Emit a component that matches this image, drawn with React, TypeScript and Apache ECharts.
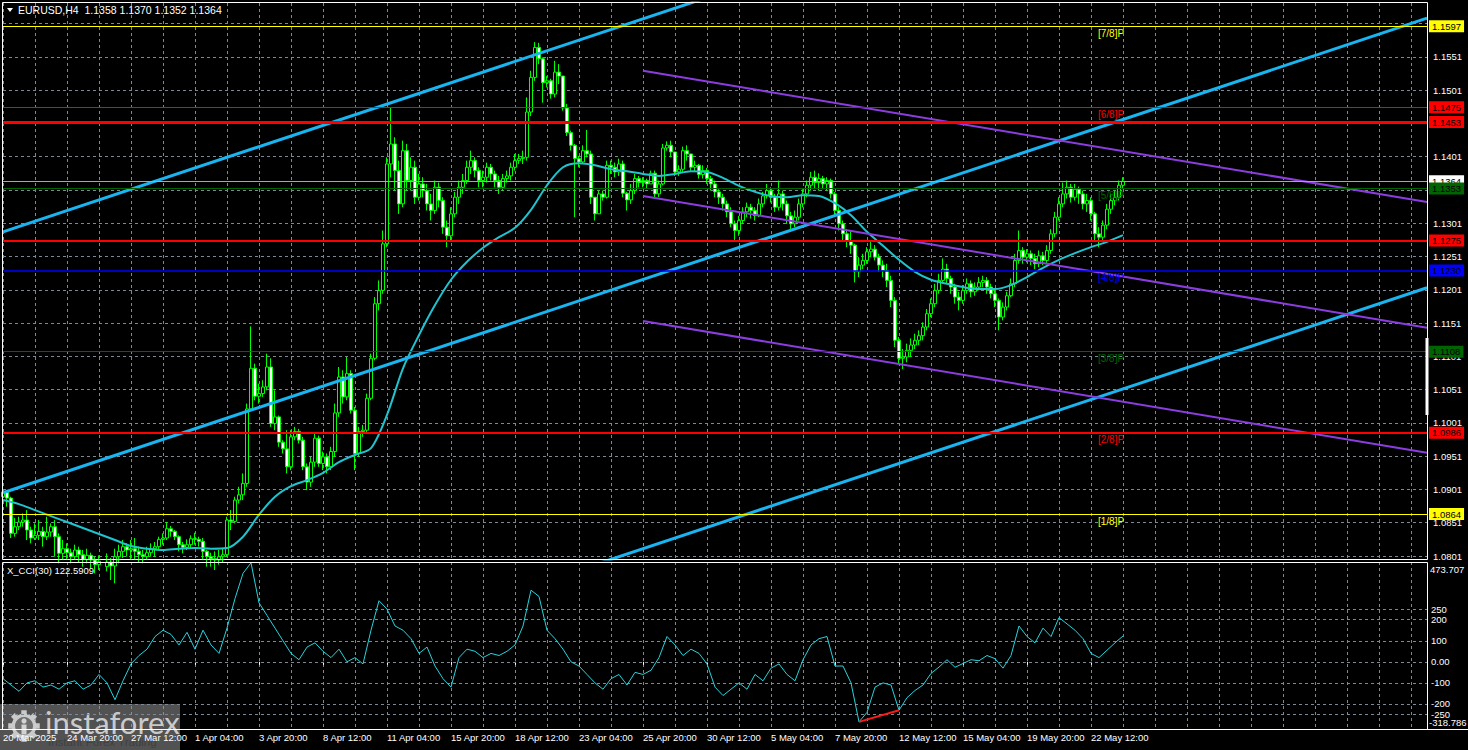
import React, { useEffect, useRef } from "react";
import * as echarts from "echarts";

// ---------------- DATA ----------------
const symbolName = "EURUSD,H4";
const slotCount = 357; // bars + right shift
const firstOpen = 1.089;
const closes = [
  1.0897,1.0888,1.0835,1.0845,1.0852,1.0855,1.0840,1.0828,1.0832,1.0838,
  1.0830,1.0837,1.0845,1.0830,1.0805,1.0812,1.0806,1.0800,1.0810,1.0803,
  1.0796,1.0802,1.0795,1.0788,1.0793,1.0785,1.0792,1.0786,1.0800,1.0808,
  1.0815,1.0810,1.0812,1.0808,1.0803,1.0800,1.0806,1.0812,1.0815,1.0826,
  1.0828,1.0842,1.0838,1.0830,1.0818,1.0814,1.0818,1.0827,1.0826,1.0823,
  1.0808,1.0800,1.0797,1.0795,1.0800,1.0803,1.0855,1.0853,1.0885,1.0893,
  1.0910,1.1022,1.1083,1.1041,1.1045,1.1055,1.1085,1.1000,1.1010,1.0972,
  1.0962,1.0935,1.0980,1.0988,1.0975,1.0935,1.0912,1.0942,1.0978,1.0940,
  1.0950,1.0935,1.0958,1.1016,1.1070,1.1040,1.1075,1.1020,1.0955,1.0988,
  1.0990,1.1038,1.1098,1.1180,1.1200,1.1270,1.1390,1.1420,1.1380,1.1330,
  1.1410,1.1365,1.1385,1.1340,1.1360,1.1350,1.1330,1.1320,1.1355,1.1335,
  1.1295,1.1282,1.1315,1.1340,1.1355,1.1365,1.1385,1.1395,1.1380,1.1365,
  1.1370,1.1385,1.1375,1.1365,1.1355,1.1368,1.1372,1.1385,1.1395,1.1398,
  1.1400,1.1468,1.1520,1.1565,1.1548,1.1512,1.1515,1.1495,1.1528,1.1522,
  1.1474,1.1437,1.1418,1.1398,1.1393,1.1410,1.1405,1.1340,1.1315,1.1345,
  1.1340,1.1388,1.1385,1.1378,1.1390,1.1346,1.1336,1.1350,1.1368,1.1362,
  1.1365,1.1360,1.1376,1.1345,1.1360,1.1414,1.1418,1.1408,1.1378,1.1382,
  1.1410,1.1405,1.1385,1.1388,1.1374,1.1380,1.1368,1.1360,1.1348,1.1340,
  1.1330,1.1318,1.1300,1.1290,1.1305,1.1318,1.1325,1.1320,1.1312,1.1330,
  1.1342,1.1350,1.1340,1.1325,1.1345,1.1330,1.1312,1.1300,1.1310,1.1330,
  1.1345,1.1358,1.1370,1.1362,1.1368,1.1360,1.1365,1.1345,1.1320,1.1300,
  1.1285,1.1275,1.1268,1.1228,1.1238,1.1245,1.1258,1.1262,1.1250,1.1238,
  1.1230,1.1215,1.1185,1.1125,1.1098,1.1100,1.1110,1.1118,1.1125,1.1132,
  1.1145,1.1165,1.1180,1.1200,1.1215,1.1232,1.1218,1.1205,1.1190,1.1185,
  1.1200,1.1210,1.1198,1.1205,1.1212,1.1215,1.1205,1.1195,1.1185,1.1160,
  1.1175,1.1192,1.1210,1.1245,1.1260,1.1250,1.1255,1.1248,1.1240,1.1252,
  1.1245,1.1260,1.1285,1.1310,1.1330,1.1345,1.1355,1.1340,1.1352,1.1345,
  1.1330,1.1335,1.1315,1.1285,1.1280,1.1298,1.1322,1.1335,1.1340,1.1358,
  1.1364,
];
const highs = [
  1.0925,1.0900,1.0890,1.0858,1.0860,1.0865,1.0870,1.0845,1.0850,1.0855,
  1.0845,1.0860,1.0850,1.0855,1.0835,1.0825,1.0820,1.0812,1.0818,1.0815,
  1.0810,1.0812,1.0806,1.0800,1.0802,1.0796,1.0805,1.0798,1.0812,1.0818,
  1.0825,1.0820,1.0825,1.0828,1.0815,1.0810,1.0815,1.0820,1.0822,1.0830,
  1.0835,1.0852,1.0846,1.0840,1.0832,1.0822,1.0826,1.0832,1.0836,1.0830,
  1.0828,1.0810,1.0806,1.0808,1.0810,1.0812,1.0860,1.0870,1.0890,1.0905,
  1.0925,1.1030,1.1146,1.1090,1.1060,1.1065,1.1105,1.1098,1.1050,1.1012,
  1.0975,1.0990,1.0990,1.0995,1.0992,1.0980,1.0940,1.0950,1.0985,1.0982,
  1.0958,1.0955,1.0965,1.1030,1.1085,1.1080,1.1100,1.1080,1.1025,1.0995,
  1.0998,1.1045,1.1105,1.1190,1.1215,1.1290,1.1400,1.1474,1.1430,1.1395,
  1.1425,1.1420,1.1400,1.1395,1.1375,1.1370,1.1360,1.1345,1.1365,1.1362,
  1.1340,1.1305,1.1325,1.1348,1.1365,1.1375,1.1395,1.1410,1.1400,1.1385,
  1.1380,1.1392,1.1390,1.1380,1.1372,1.1375,1.1380,1.1392,1.1405,1.1405,
  1.1410,1.1490,1.1530,1.1573,1.1572,1.1550,1.1522,1.1518,1.1545,1.1540,
  1.1515,1.1480,1.1440,1.1420,1.1402,1.1418,1.1441,1.1410,1.1340,1.1350,
  1.1350,1.1395,1.1395,1.1392,1.1398,1.1395,1.1348,1.1360,1.1375,1.1372,
  1.1370,1.1368,1.1380,1.1380,1.1365,1.1420,1.1424,1.1425,1.1402,1.1388,
  1.1416,1.1418,1.1405,1.1395,1.1390,1.1388,1.1384,1.1372,1.1365,1.1352,
  1.1345,1.1335,1.1325,1.1305,1.1312,1.1325,1.1332,1.1330,1.1325,1.1338,
  1.1348,1.1360,1.1355,1.1345,1.1365,1.1350,1.1335,1.1318,1.1320,1.1338,
  1.1352,1.1365,1.1378,1.1380,1.1376,1.1372,1.1370,1.1368,1.1348,1.1325,
  1.1305,1.1292,1.1290,1.1270,1.1250,1.1255,1.1265,1.1275,1.1268,1.1255,
  1.1245,1.1240,1.1222,1.1190,1.1130,1.1112,1.1120,1.1128,1.1135,1.1140,
  1.1152,1.1172,1.1188,1.1210,1.1225,1.1248,1.1240,1.1222,1.1210,1.1198,
  1.1208,1.1218,1.1215,1.1212,1.1220,1.1222,1.1220,1.1210,1.1200,1.1188,
  1.1182,1.1198,1.1218,1.1255,1.1290,1.1265,1.1262,1.1260,1.1255,1.1260,
  1.1258,1.1268,1.1292,1.1318,1.1340,1.1362,1.1365,1.1360,1.1360,1.1356,
  1.1350,1.1345,1.1340,1.1318,1.1295,1.1305,1.1330,1.1345,1.1350,1.1365,
  1.1370,
];
const lows = [
  1.0880,1.0875,1.0828,1.0830,1.0840,1.0845,1.0825,1.0820,1.0825,1.0825,
  1.0815,1.0825,1.0830,1.0800,1.0790,1.0795,1.0795,1.0790,1.0795,1.0792,
  1.0785,1.0790,1.0782,1.0775,1.0780,1.0770,1.0778,1.0765,1.0760,1.0790,
  1.0798,1.0800,1.0795,1.0795,1.0792,1.0790,1.0795,1.0800,1.0800,1.0810,
  1.0818,1.0825,1.0830,1.0825,1.0808,1.0805,1.0810,1.0812,1.0818,1.0815,
  1.0795,1.0785,1.0785,1.0780,1.0788,1.0792,1.0800,1.0840,1.0850,1.0880,
  1.0885,1.0905,1.1020,1.1035,1.1030,1.1040,1.1050,1.0995,1.0990,1.0965,
  1.0955,1.0925,1.0930,1.0975,1.0970,1.0930,1.0900,1.0905,1.0935,1.0935,
  1.0930,1.0925,1.0930,1.0950,1.1010,1.1030,1.1035,1.1015,1.0930,1.0950,
  1.0980,1.0985,1.1035,1.1095,1.1170,1.1195,1.1265,1.1370,1.1350,1.1315,
  1.1325,1.1350,1.1350,1.1330,1.1335,1.1340,1.1320,1.1305,1.1315,1.1325,
  1.1285,1.1265,1.1275,1.1310,1.1330,1.1345,1.1360,1.1375,1.1370,1.1355,
  1.1355,1.1362,1.1365,1.1355,1.1345,1.1350,1.1362,1.1365,1.1380,1.1390,
  1.1390,1.1395,1.1462,1.1515,1.1540,1.1482,1.1505,1.1488,1.1490,1.1510,
  1.1470,1.1432,1.1410,1.1310,1.1385,1.1390,1.1400,1.1330,1.1305,1.1315,
  1.1335,1.1338,1.1375,1.1370,1.1372,1.1340,1.1320,1.1330,1.1345,1.1355,
  1.1355,1.1352,1.1360,1.1340,1.1340,1.1358,1.1410,1.1400,1.1372,1.1372,
  1.1378,1.1395,1.1380,1.1378,1.1368,1.1368,1.1360,1.1350,1.1340,1.1330,
  1.1320,1.1310,1.1295,1.1275,1.1282,1.1300,1.1310,1.1308,1.1305,1.1310,
  1.1325,1.1338,1.1332,1.1318,1.1320,1.1320,1.1300,1.1288,1.1295,1.1305,
  1.1325,1.1340,1.1350,1.1352,1.1350,1.1352,1.1350,1.1338,1.1312,1.1290,
  1.1275,1.1265,1.1255,1.1212,1.1220,1.1232,1.1240,1.1250,1.1245,1.1228,
  1.1220,1.1205,1.1175,1.1115,1.1090,1.1082,1.1092,1.1100,1.1112,1.1118,
  1.1125,1.1140,1.1160,1.1175,1.1195,1.1210,1.1210,1.1195,1.1180,1.1170,
  1.1180,1.1195,1.1190,1.1192,1.1200,1.1205,1.1195,1.1188,1.1175,1.1140,
  1.1155,1.1170,1.1190,1.1205,1.1240,1.1240,1.1242,1.1238,1.1232,1.1235,
  1.1238,1.1240,1.1255,1.1280,1.1305,1.1325,1.1338,1.1332,1.1335,1.1330,
  1.1322,1.1318,1.1305,1.1275,1.1265,1.1275,1.1292,1.1315,1.1328,1.1335,
  1.1352,
];

// moving average, one reading every 4 bars
const maStep = 4;
const maValues = [
  1.0885,1.0879,1.0870,1.0861,1.0852,1.0843,1.0834,1.0825,1.0816,1.0812,
  1.0810,1.0812,1.0813,1.0812,1.0813,1.0830,1.0863,1.0890,1.0906,1.0915,
  1.0926,1.0942,1.0953,1.0963,1.1013,1.1083,1.1133,1.1178,1.1216,1.1243,
  1.1264,1.1280,1.1294,1.1321,1.1358,1.1385,1.1391,1.1388,1.1382,1.1379,
  1.1375,1.1372,1.1375,1.1379,1.1378,1.1369,1.1357,1.1348,1.1342,1.1340,
  1.1343,1.1342,1.1331,1.1313,1.1288,1.1267,1.1246,1.1228,1.1216,1.1210,
  1.1205,1.1202,1.1202,1.1208,1.1220,1.1234,1.1246,1.1256,1.1265,1.1273,
  1.1283,
];

// CCI(30), one reading every 2 bars
const cciName = "X_CCI(30)";
const cciStep = 2;
const cciValues = [
  -80,-110,-140,-100,-90,-120,-110,-130,-100,-90,
  -130,-110,-60,-100,-180,-90,-10,30,60,120,
  150,130,80,140,60,150,80,40,160,300,
  420,470,280,220,160,100,40,10,70,90,
  50,20,60,0,20,-10,150,290,250,170,
  150,110,40,70,-20,-80,-120,20,60,50,
  20,40,30,50,80,170,340,310,150,110,
  60,0,-20,-60,-100,-130,-80,-60,-110,-50,
  -60,-40,20,120,80,30,60,40,-10,-120,
  -160,-130,-100,-130,-60,-90,-30,-10,-60,-90,
  10,80,110,120,-20,-20,-100,-285,-240,-120,
  -100,-110,-230,-170,-136,-110,-55,-25,10,-26,
  -8,10,5,30,15,-30,30,170,120,90,
  160,120,210,180,150,110,40,20,55,90,
  122.5909,
];
const cciMax = 473.707;
const cciMin = -318.786;
const cciTicks = [250, 200, 100, 0, -100, -200, -250];
const divergenceCciIdx = [107, 112]; // indices into cciValues

// axes
const priceMin = 1.07965;
const priceMax = 1.16318;
const priceTicks = [
  1.0801,1.0851,1.0901,1.0951,1.1001,1.1051,1.1101,1.1151,1.1201,
  1.1251,1.1301,1.1351,1.1401,1.1451,1.1501,1.1551,1.1601,
];
const timeTickStep = 16;
const timeTickLabels = [
  "20 Mar 2025","24 Mar 20:00","27 Mar 12:00","1 Apr 04:00","3 Apr 20:00",
  "8 Apr 12:00","11 Apr 04:00","15 Apr 20:00","18 Apr 12:00","23 Apr 04:00",
  "25 Apr 20:00","30 Apr 12:00","5 May 04:00","7 May 20:00","12 May 12:00",
  "15 May 04:00","19 May 20:00","22 May 12:00",
];

// drawn objects
const channelIdx = [0, 356];
const channelUpper = [1.1288, 1.2000];
const channelMiddle = [1.0896, 1.1609];
const channelLower = [1.0492, 1.1204];
const regressionIdx = [160, 356];
const regressionUpper = [1.1530, 1.1333];
const regressionMiddle = [1.1342, 1.1144];
const regressionLower = [1.1154, 1.0956];

const levelValues = [1.1597, 1.1475, 1.1453, 1.1364, 1.1353, 1.1275, 1.1230, 1.1108, 1.0986, 1.0864];
const levelTags = ["[7/8]P", "[6/8]P", "", "", "[5/8]P", "", "[4/8]P", "[3/8]P", "[2/8]P", "[1/8]P"];

// ---------------- STYLES ----------------
const FONT = '"Liberation Sans", Arial, sans-serif';
const GRID_COLOR = "#7d8896";
const levelStyles = [
  { color: "#ffff00", width: 1, bg: "#ffff00" },
  { color: "#ff0000", width: 1, bg: "#ff0000" },
  { color: "#ff0000", width: 3, bg: "#ff0000" },
  { color: "#a8a8a8", width: 1, bg: "#ffffff" },
  { color: "#006400", width: 1, bg: "#006400" },
  { color: "#ff0000", width: 2, bg: "#ff0000" },
  { color: "#0000ff", width: 1.5, bg: "#0000ff" },
  { color: "#006400", width: 1, bg: "#006400" },
  { color: "#ff0000", width: 2, bg: "#ff0000" },
  { color: "#ffff00", width: 1, bg: "#ffff00" },
];

export default function App() {
  const ref = useRef<HTMLDivElement>(null);

  useEffect(() => {
    document.body.style.margin = "0";
    document.body.style.background = "#000";
    const chart = echarts.init(ref.current as HTMLDivElement, null, { renderer: "svg" });

    const slots = Array.from({ length: slotCount }, (_, i) => String(i));
    const opens = closes.map((_, i) => (i === 0 ? firstOpen : closes[i - 1]));
    const candleData = closes.map((c, i) => {
      const o = opens[i];
      return [o, c, Math.min(lows[i], o, c), Math.max(highs[i], o, c)];
    });
    const maData = maValues.map((v, k) => [k * maStep, v]);
    const cciData = cciValues.map((v, k) => [k * cciStep, v]);
    const divData = divergenceCciIdx.map((k) => [k * cciStep, cciValues[k]]);

    const seg = (idx: number[], vals: number[]) => [[idx[0], vals[0]], [idx[1], vals[1]]];
    const lineSeries = (data: any, color: string, width: number) => ({
      type: "line",
      xAxisIndex: 0,
      yAxisIndex: 0,
      data,
      symbol: "none",
      silent: true,
      clip: true,
      z: 3,
      lineStyle: { color, width },
    });

    const xBase = (gridIndex: number) => ({
      gridIndex,
      type: "category",
      data: slots,
      boundaryGap: false,
      axisLine: { show: false },
      axisTick: { show: false },
      axisLabel: { show: false },
      splitLine: {
        show: true,
        interval: (i: number) => i % 8 === 0,
        lineStyle: { color: GRID_COLOR, type: [3, 3], width: 1 },
      },
    });

    const labelInterval = (i: number) => i % timeTickStep === 0 && i / timeTickStep < timeTickLabels.length;

    const option: any = {
      animation: false,
      backgroundColor: "#000",
      grid: [
        { left: 3, top: 3, width: 1424, height: 556 },
        { left: 3, top: 562, width: 1424, height: 167 },
      ],
      xAxis: [
        xBase(0),
        {
          ...xBase(1),
          axisTick: {
            show: true,
            interval: labelInterval,
            length: 3,
            lineStyle: { color: "#fff" },
          },
          axisLabel: {
            show: true,
            interval: labelInterval,
            formatter: (_v: string, i: number) => timeTickLabels[i / timeTickStep] || "",
            align: "left",
            margin: 3,
            color: "#fff",
            fontSize: 9.5,
            fontFamily: FONT,
          },
        },
      ],
      yAxis: [
        {
          gridIndex: 0, type: "value", min: priceMin, max: priceMax,
          axisLine: { show: false }, axisTick: { show: false }, axisLabel: { show: false }, splitLine: { show: false },
        },
        {
          gridIndex: 1, type: "value", min: cciMin, max: cciMax,
          axisLine: { show: false }, axisTick: { show: false }, axisLabel: { show: false }, splitLine: { show: false },
        },
      ],
      series: [
        {
          type: "line",
          xAxisIndex: 0,
          yAxisIndex: 0,
          data: [[356, 1.12]],
          symbol: "none",
          silent: true,
          z: 1,
          lineStyle: { opacity: 0 },
          markLine: {
            silent: true,
            z: 1,
            precision: 5,
            symbol: ["none", "none"],
            lineStyle: { color: GRID_COLOR, type: [3, 3], width: 1 },
            label: {
              show: true,
              position: "end",
              distance: 6,
              color: "#fff",
              fontSize: 9.5,
              fontFamily: FONT,
              formatter: (p: any) => Number(p.value).toFixed(4),
            },
            data: priceTicks.map((v) => ({ yAxis: v })),
          },
        },
        {
          type: "candlestick",
          xAxisIndex: 0,
          yAxisIndex: 0,
          data: candleData,
          barWidth: 3,
          silent: true,
          z: 2,
          itemStyle: {
            color: "#000",
            color0: "#fff",
            borderColor: "#00ff00",
            borderColor0: "#00ff00",
            borderColorDoji: "#00ff00",
            borderWidth: 1,
          },
        },
        { ...lineSeries(maData, "#1fc4cf", 2), smooth: 0.3 },
        lineSeries(seg(channelIdx, channelUpper), "#19b5f0", 3),
        lineSeries(seg(channelIdx, channelMiddle), "#19b5f0", 3),
        lineSeries(seg(channelIdx, channelLower), "#19b5f0", 3),
        lineSeries(seg(regressionIdx, regressionUpper), "#8b3de0", 2),
        lineSeries(seg(regressionIdx, regressionMiddle), "#8b3de0", 2),
        lineSeries(seg(regressionIdx, regressionLower), "#8b3de0", 2),
        {
          type: "line",
          xAxisIndex: 0,
          yAxisIndex: 0,
          data: [[356, 1.12]],
          symbol: "none",
          silent: true,
          z: 4,
          lineStyle: { opacity: 0 },
          markLine: {
            silent: true,
            z: 6,
            precision: 5,
            symbol: ["none", "none"],
            data: levelValues.map((v, i) => ({
              yAxis: v,
              lineStyle: { color: levelStyles[i].color, width: levelStyles[i].width, type: "solid" },
              label: {
                show: true,
                position: "end",
                distance: 2,
                formatter: () => v.toFixed(4),
                color: "#000",
                backgroundColor: levelStyles[i].bg,
                padding: [1, 3, 0, 3],
                fontSize: 9.5,
                lineHeight: 11,
                fontFamily: FONT,
              },
            })),
          },
        },
        {
          type: "line",
          xAxisIndex: 1,
          yAxisIndex: 1,
          data: cciData,
          symbol: "none",
          silent: true,
          z: 3,
          lineStyle: { color: "#27d3dc", width: 1 },
          markLine: {
            silent: true,
            z: 1,
            precision: 3,
            symbol: ["none", "none"],
            lineStyle: { color: GRID_COLOR, type: [3, 3], width: 1 },
            label: {
              show: true,
              position: "end",
              distance: 4,
              color: "#fff",
              fontSize: 9.5,
              fontFamily: FONT,
              formatter: (p: any) => (Number(p.value) === 0 ? "0.00" : String(Math.round(Number(p.value)))),
            },
            data: cciTicks.map((v) => ({ yAxis: v })),
          },
        },
        {
          type: "line",
          xAxisIndex: 1,
          yAxisIndex: 1,
          data: divData,
          symbol: "none",
          silent: true,
          z: 4,
          lineStyle: { color: "#ff1a1a", width: 2 },
        },
      ],
    };

    chart.setOption(option);

    // ---------- overlay graphics ----------
    const last = candleData[candleData.length - 1];
    const title = `${symbolName}  ${last[0].toFixed(4)} ${last[3].toFixed(4)} ${last[2].toFixed(4)} ${last[1].toFixed(4)}`;
    const cciTitle = `${cciName} ${cciValues[cciValues.length - 1].toFixed(4)}`;

    const tagGraphics: any[] = [];
    levelValues.forEach((v, i) => {
      if (!levelTags[i]) return;
      const y = chart.convertToPixel({ yAxisIndex: 0 } as any, v) as number;
      tagGraphics.push({
        type: "text",
        x: 1098,
        y: y + 7,
        z: 50,
        silent: true,
        style: {
          text: levelTags[i],
          fill: levelStyles[i].color,
          fontSize: 10,
          fontFamily: FONT,
          verticalAlign: "middle",
        },
      });
    });

    const gearPts: number[][] = [];
    const teeth = 8;
    for (let k = 0; k < teeth * 2; k++) {
      const a = (k * Math.PI) / teeth;
      const r = k % 2 === 0 ? 16 : 12.5;
      gearPts.push([24 + r * Math.cos(a - 0.17), 726 + r * Math.sin(a - 0.17)]);
      gearPts.push([24 + r * Math.cos(a + 0.17), 726 + r * Math.sin(a + 0.17)]);
    }

    const graphics: any[] = [
      // frames
      { type: "rect", z: 100, silent: true, shape: { x: 2.5, y: 2.5, width: 1425, height: 557 }, style: { fill: "none", stroke: "#fff", lineWidth: 1 } },
      { type: "rect", z: 100, silent: true, shape: { x: 2.5, y: 562.5, width: 1425, height: 167 }, style: { fill: "none", stroke: "#fff", lineWidth: 1 } },
      { type: "line", z: 100, silent: true, shape: { x1: 0, y1: 729.5, x2: 1468, y2: 729.5 }, style: { stroke: "#fff", lineWidth: 1 } },
      { type: "rect", z: 100, silent: true, shape: { x: 1425.5, y: 338, width: 3, height: 77 }, style: { fill: "#fff" } },
      // titles
      { type: "polygon", z: 100, silent: true, shape: { points: [[7, 8], [13, 8], [10, 12]] }, style: { fill: "#fff" } },
      { type: "text", z: 100, silent: true, x: 18, y: 10, style: { text: title, fill: "#fff", fontSize: 10.5, fontFamily: FONT, verticalAlign: "middle" } },
      { type: "text", z: 100, silent: true, x: 7, y: 570, style: { text: cciTitle, fill: "#fff", fontSize: 9.5, fontFamily: FONT, verticalAlign: "middle" } },
      { type: "text", z: 100, silent: true, x: 1430, y: 569, style: { text: cciMax.toFixed(3), fill: "#fff", fontSize: 9.5, fontFamily: FONT, verticalAlign: "middle" } },
      { type: "text", z: 100, silent: true, x: 1429, y: 722, style: { text: cciMin.toFixed(3), fill: "#fff", fontSize: 9.5, fontFamily: FONT, verticalAlign: "middle" } },
      ...tagGraphics,
      // watermark
      {
        type: "group",
        z: 200,
        silent: true,
        children: [
          { type: "rect", shape: { x: 0, y: 704, width: 180, height: 46 }, style: { fill: "rgba(150,150,150,0.55)" } },
          { type: "polygon", shape: { points: gearPts }, style: { fill: "rgba(215,215,215,0.9)" } },
          { type: "circle", shape: { cx: 24, cy: 726, r: 9 }, style: { fill: "rgba(110,110,110,1)" } },
          { type: "circle", shape: { cx: 24, cy: 721, r: 2.6 }, style: { fill: "rgba(215,215,215,0.95)" } },
          { type: "rect", shape: { x: 21.5, y: 724.5, width: 5, height: 10 }, style: { fill: "rgba(215,215,215,0.95)" } },
          { type: "text", x: 45, y: 722, style: { text: "instaforex", fill: "rgba(215,215,215,0.92)", fontSize: 31, fontFamily: "Lato, 'Open Sans', sans-serif", verticalAlign: "middle" } },
          { type: "text", x: 48, y: 742, style: { text: "Instant Forex Trading", fill: "rgba(60,60,60,0.85)", fontSize: 11.5, fontFamily: FONT, verticalAlign: "middle" } },
        ],
      },
    ];

    chart.setOption({ graphic: graphics });

    return () => {
      chart.dispose();
    };
  }, []);

  return (
    <div
      ref={ref}
      style={{ position: "absolute", left: 0, top: 0, width: 1468, height: 750, background: "#000" }}
    />
  );
}
